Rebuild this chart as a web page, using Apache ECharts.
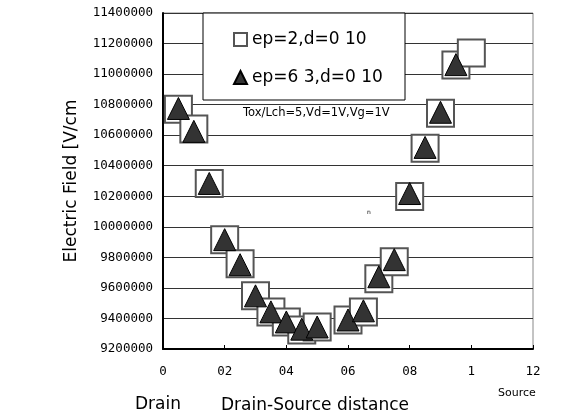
<!DOCTYPE html>
<html>
<head>
<meta charset="utf-8">
<script src="https://cdn.jsdelivr.net/npm/echarts@6/dist/echarts.min.js"></script>
<style>
  html, body { margin: 0; padding: 0; background: #fff; }
  #chart { width: 561px; height: 416px; }
</style>
</head>
<body>
<div id="chart"></div>
<script>
// 数据
var xTickLabels = ['0', '02', '04', '06', '08', '1', '12'];
var distSq = [0.05, 0.1, 0.15, 0.2, 0.25, 0.3, 0.35, 0.4, 0.45, 0.5, 0.6, 0.65, 0.7, 0.75, 0.8, 0.85, 0.9, 0.95, 1.0];
var fieldSq = [10770000, 10640000, 10284000, 9916000, 9758000, 9548000, 9443000, 9377000, 9325000, 9344000,
  9390000, 9443000, 9660000, 9771000, 10198000, 10514000, 10744000, 11059000, 11138000];
var distTri = [0.05, 0.1, 0.15, 0.2, 0.25, 0.3, 0.35, 0.4, 0.45, 0.5, 0.6, 0.65, 0.7, 0.75, 0.8, 0.85, 0.9, 0.95];
var fieldTri = [10775000, 10625000, 10284000, 9916000, 9752000, 9548000, 9443000, 9377000, 9330000, 9344000,
  9390000, 9450000, 9673000, 9785000, 10218000, 10520000, 10750000, 11062000];
var seriesNames = ['ep=2,d=0 10', 'ep=6 3,d=0 10'];

function pairs(xs, ys) {
  return xs.map(function (x, i) { return [x, ys[i]]; });
}

var myChart = echarts.init(document.getElementById('chart'));

var option = {
  animation: false,
  backgroundColor: '#fff',
  grid: {
    left: 163, right: 28, top: 13, bottom: 67,
    show: true, borderColor: '#888', borderWidth: 1
  },
  xAxis: {
    type: 'value',
    min: 0, max: 1.2, interval: 0.2,
    axisLine: { lineStyle: { color: '#000', width: 2 } },
    axisTick: { inside: true, length: 4, lineStyle: { color: '#000' } },
    splitLine: { show: false },
    axisLabel: {
      margin: 16,
      fontFamily: 'DejaVu Sans Mono', fontSize: 12.5, color: '#000',
      formatter: function (v) { return xTickLabels[Math.round(v / 0.2)]; }
    }
  },
  yAxis: {
    type: 'value',
    min: 9200000, max: 11400000, interval: 200000,
    axisLine: { show: true, lineStyle: { color: '#000', width: 2 } },
    axisTick: { show: false },
    splitLine: { lineStyle: { color: '#333', width: 1 } },
    axisLabel: {
      margin: 10,
      fontFamily: 'DejaVu Sans Mono', fontSize: 12.5, color: '#000',
      formatter: function (v) { return String(v); }
    }
  },
  legend: {
    orient: 'vertical',
    left: 233, top: 30,
    padding: 0,
    itemGap: 19,
    itemWidth: 13, itemHeight: 13,
    z: 10,
    textStyle: { fontFamily: 'DejaVu Sans', fontSize: 17, color: '#000', lineHeight: 19 },
    data: seriesNames
  },
  graphic: [
    {
      type: 'rect', z: 5,
      shape: { x: 203, y: 13, width: 202, height: 87 },
      style: { fill: '#fff', stroke: '#000', lineWidth: 1 }
    },
    {
      type: 'text', z: 5,
      style: { text: 'Tox/Lch=5,Vd=1V,Vg=1V', x: 243, y: 113, font: '11.5px DejaVu Sans', fill: '#000', verticalAlign: 'middle' }
    },
    {
      type: 'text', z: 5,
      style: { text: 'n', x: 369, y: 212, font: '6px DejaVu Sans', fill: '#000', align: 'center', verticalAlign: 'middle' }
    },
    {
      type: 'text', z: 5,
      x: 72, y: 181,
      rotation: Math.PI / 2,
      style: {
        text: 'Electric Field [V/cm', font: '17px DejaVu Sans', fill: '#000',
        align: 'center', verticalAlign: 'middle'
      }
    },
    {
      type: 'text', z: 5,
      style: { text: 'Drain', x: 158, y: 405, font: '17px DejaVu Sans', fill: '#000', align: 'center', verticalAlign: 'middle' }
    },
    {
      type: 'text', z: 5,
      style: { text: 'Drain-Source distance', x: 315, y: 406, font: '17px DejaVu Sans', fill: '#000', align: 'center', verticalAlign: 'middle' }
    },
    {
      type: 'text', z: 5,
      style: { text: 'Source', x: 517, y: 393, font: '11px DejaVu Sans', fill: '#000', align: 'center', verticalAlign: 'middle' }
    }
  ],
  series: [
    {
      name: seriesNames[0],
      type: 'scatter',
      symbol: 'rect',
      symbolSize: 27,
      z: 6,
      itemStyle: { color: '#fff', borderColor: '#555', borderWidth: 2, opacity: 1 },
      data: pairs(distSq, fieldSq)
    },
    {
      name: seriesNames[1],
      type: 'scatter',
      symbol: 'triangle',
      symbolSize: 22,
      z: 7,
      itemStyle: { color: '#333', borderColor: '#000', borderWidth: 1, opacity: 1 },
      data: pairs(distTri, fieldTri)
    }
  ]
};

myChart.setOption(option);
</script>
</body>
</html>
